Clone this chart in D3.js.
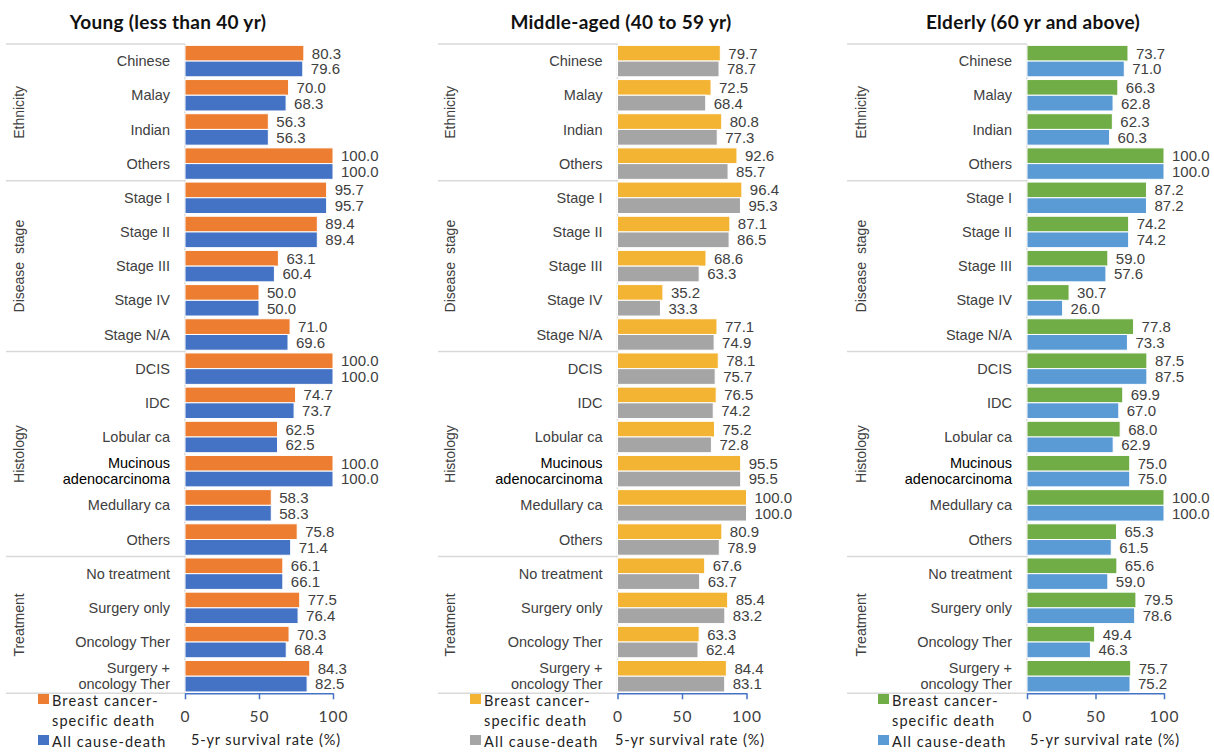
<!DOCTYPE html>
<html>
<head>
<meta charset="utf-8">
<script src="https://cdn.jsdelivr.net/npm/d3@7/dist/d3.min.js"></script>
<style>
  body { margin: 0; background: #fff; }
  svg { display: block; }
</style>
</head>
<body>
<svg id="chart" width="1214" height="752"></svg>
<script>
// Row categories (line breaks marked with "\n")
const categories = [
  "Chinese", "Malay", "Indian", "Others",
  "Stage I", "Stage II", "Stage III", "Stage IV", "Stage N/A",
  "DCIS", "IDC", "Lobular ca", "Mucinous\nadenocarcinoma", "Medullary ca", "Others",
  "No treatment", "Surgery only", "Oncology Ther", "Surgery +\noncology Ther"
];
const groupNames = ["Ethnicity", "Disease  stage", "Histology", "Treatment"];
const groupSizes = [4, 5, 6, 4];

const seriesNames = ["Breast cancer-\nspecific death", "All cause-death"];
const panelTitles = ["Young (less than 40 yr)", "Middle-aged (40 to 59 yr)", "Elderly (60 yr and above)"];
const tickValues = [0, 50, 100];
const axisTitle = "5-yr survival rate (%)";

// 5-year survival rates (%)
const youngCancerSpecific = [80.3, 70.0, 56.3, 100.0, 95.7, 89.4, 63.1, 50.0, 71.0, 100.0, 74.7, 62.5, 100.0, 58.3, 75.8, 66.1, 77.5, 70.3, 84.3];
const youngAllCause       = [79.6, 68.3, 56.3, 100.0, 95.7, 89.4, 60.4, 50.0, 69.6, 100.0, 73.7, 62.5, 100.0, 58.3, 71.4, 66.1, 76.4, 68.4, 82.5];
const middleCancerSpecific = [79.7, 72.5, 80.8, 92.6, 96.4, 87.1, 68.6, 35.2, 77.1, 78.1, 76.5, 75.2, 95.5, 100.0, 80.9, 67.6, 85.4, 63.3, 84.4];
const middleAllCause       = [78.7, 68.4, 77.3, 85.7, 95.3, 86.5, 63.3, 33.3, 74.9, 75.7, 74.2, 72.8, 95.5, 100.0, 78.9, 63.7, 83.2, 62.4, 83.1];
const elderlyCancerSpecific = [73.7, 66.3, 62.3, 100.0, 87.2, 74.2, 59.0, 30.7, 77.8, 87.5, 69.9, 68.0, 75.0, 100.0, 65.3, 65.6, 79.5, 49.4, 75.7];
const elderlyAllCause       = [71.0, 62.8, 60.3, 100.0, 87.2, 74.2, 57.6, 26.0, 73.3, 87.5, 67.0, 62.9, 75.0, 100.0, 61.5, 59.0, 78.6, 46.3, 75.2];

// Panel geometry and colours
const panels = [
  { title: panelTitles[0], series: [youngCancerSpecific, youngAllCause], colors: ["#ED7D31", "#4472C4"],
    sepLeft: 6, groupX: 19, x0: 185, x1: 333, titleX: 168, legendX: 38, axisTitleX: 266 },
  { title: panelTitles[1], series: [middleCancerSpecific, middleAllCause], colors: ["#F4B433", "#A5A5A5"],
    sepLeft: 438, groupX: 450, x0: 617.5, x1: 746.5, titleX: 621, legendX: 470, axisTitleX: 690 },
  { title: panelTitles[2], series: [elderlyCancerSpecific, elderlyAllCause], colors: ["#70AD47", "#5B9BD5"],
    sepLeft: 847, groupX: 861, x0: 1027, x1: 1164, titleX: 1033, legendX: 878, axisTitleX: 1105 }
];

const plotTop = 44, plotBottom = 693.3;
const labelFont = "'Liberation Sans', Arial, sans-serif";
const uiFont = "Lato, 'Open Sans', sans-serif";
const textColor = "#404040";
const gridColor = "#D9D9D9";
const axisColor = "#4472C4";

const svg = d3.select("#chart");

panels.forEach(p => {
  const g = svg.append("g");

  const x = d3.scaleLinear().domain([0, 100]).range([p.x0, p.x1]);
  const y = d3.scaleBand()
    .domain(d3.range(categories.length))
    .range([plotTop, plotBottom])
    .paddingInner(0.08)
    .paddingOuter(0.04);
  const sub = d3.scaleBand().domain([0, 1]).range([0, y.bandwidth()]);

  // Title
  g.append("text")
    .attr("x", p.titleX).attr("y", 29)
    .attr("text-anchor", "middle")
    .attr("font-family", uiFont).attr("font-weight", "bold")
    .attr("font-size", 19).attr("fill", "#111")
    .attr("letter-spacing", 0.3)
    .text(p.title);

  // Group separators
  const bounds = [0, ...d3.cumsum(groupSizes)];
  g.selectAll("line.sep").data(bounds).join("line")
    .attr("class", "sep")
    .attr("x1", p.sepLeft).attr("x2", p.x0)
    .attr("y1", k => plotTop + k * y.step()).attr("y2", k => plotTop + k * y.step())
    .attr("stroke", gridColor).attr("stroke-width", 1.5);

  // Category axis line
  g.append("line")
    .attr("x1", p.x0).attr("x2", p.x0).attr("y1", plotTop).attr("y2", plotBottom)
    .attr("stroke", gridColor).attr("stroke-width", 1.5);

  // Group labels (rotated)
  groupNames.forEach((name, i) => {
    const cy = plotTop + (bounds[i] + bounds[i + 1]) / 2 * y.step();
    g.append("text")
      .attr("transform", `translate(${p.groupX},${cy}) rotate(-90)`)
      .attr("text-anchor", "middle").attr("dy", "0.35em")
      .attr("font-family", labelFont).attr("font-size", 14)
      .attr("fill", textColor)
      .style("white-space", "pre")
      .text(name);
  });

  // Category labels
  categories.forEach((c, i) => {
    const lines = c.split("\n");
    const cy = y(i) + y.bandwidth() / 2;
    const t = g.append("text")
      .attr("x", p.x0 - 15).attr("y", cy)
      .attr("text-anchor", "end")
      .attr("font-family", labelFont).attr("font-size", 14.5)
      .attr("fill", lines.length > 1 && i === 12 ? "#000" : textColor);
    lines.forEach((ln, j) => {
      t.append("tspan")
        .attr("x", p.x0 - 15)
        .attr("dy", j === 0 ? (lines.length > 1 ? "-0.2em" : "0.35em") : "1.1em")
        .text(ln);
    });
  });

  // Bars
  p.series.forEach((vals, s) => {
    g.selectAll(`rect.s${s}`).data(vals).join("rect")
      .attr("class", `s${s}`)
      .attr("x", x(0))
      .attr("y", (d, i) => y(i) + sub(s))
      .attr("width", d => x(d) - x(0))
      .attr("height", sub.bandwidth())
      .attr("fill", p.colors[s])
      .attr("stroke", "#fff").attr("stroke-width", 1);

    g.selectAll(`text.v${s}`).data(vals).join("text")
      .attr("class", `v${s}`)
      .attr("x", d => x(d) + 8)
      .attr("y", (d, i) => y(i) + sub(s) + sub.bandwidth() / 2)
      .attr("dy", "0.36em")
      .attr("font-family", labelFont).attr("font-size", 15)
      .attr("fill", textColor)
      .text(d3.format(".1f"));
  });

  // Value axis
  const axis = g.append("g")
    .attr("transform", `translate(0,${plotBottom})`)
    .call(d3.axisBottom(x).tickValues(tickValues).tickSize(6).tickPadding(12).tickSizeOuter(0));
  axis.select(".domain").attr("stroke", axisColor).attr("stroke-width", 1.5);
  axis.selectAll(".tick line").attr("stroke", axisColor).attr("stroke-width", 1.5);
  axis.selectAll(".tick text")
    .attr("font-family", uiFont).attr("font-size", 15.5)
    .attr("fill", textColor).attr("letter-spacing", 1);

  g.append("text")
    .attr("x", p.axisTitleX).attr("y", 745)
    .attr("text-anchor", "middle")
    .attr("font-family", uiFont).attr("font-size", 14.5)
    .attr("letter-spacing", 0.9)
    .attr("fill", "#222")
    .text(axisTitle);

  // Legend
  const legendRows = [
    { color: p.colors[0], lines: seriesNames[0].split("\n"), y: 694 },
    { color: p.colors[1], lines: seriesNames[1].split("\n"), y: 735 }
  ];
  legendRows.forEach(r => {
    g.append("rect")
      .attr("x", p.legendX).attr("y", r.y)
      .attr("width", 11).attr("height", 10)
      .attr("fill", r.color);
    r.lines.forEach((ln, j) => {
      g.append("text")
        .attr("x", p.legendX + 14).attr("y", r.y + 11.5 + j * 20)
        .attr("font-family", uiFont).attr("font-size", 14.5)
        .attr("letter-spacing", 1.1)
        .attr("fill", "#222")
        .text(ln);
    });
  });
});
</script>
</body>
</html>
